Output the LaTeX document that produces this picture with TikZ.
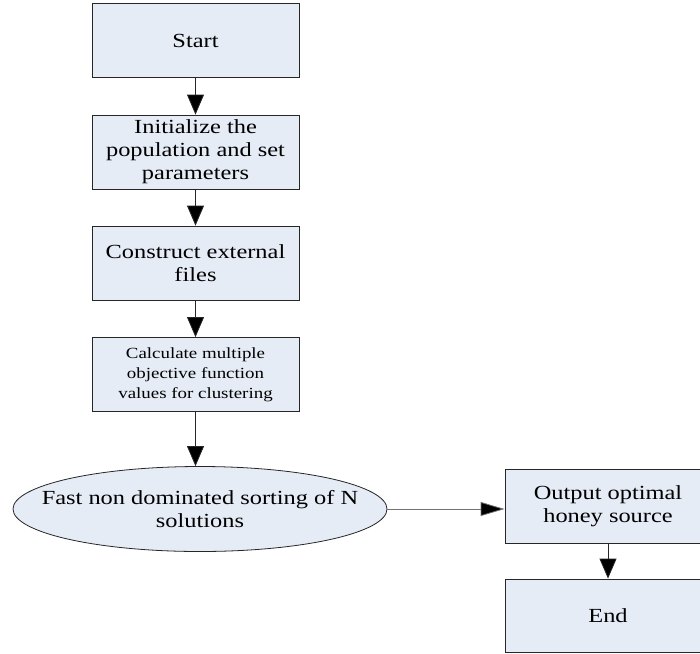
\documentclass[tikz,border=0pt]{standalone}
\usepackage{fontspec}
\setmainfont[FakeStretch=1.22]{Liberation Serif}
\usetikzlibrary{arrows.meta}
\usetikzlibrary{shapes.geometric}

\definecolor{boxfill}{RGB}{230,236,246}

\begin{document}
\begin{tikzpicture}[x=1pt, y=-1pt,
    stepbox/.style={rectangle, draw=black!85, fill=boxfill, line width=0.8pt,
      minimum width=207pt, minimum height=74pt, inner sep=0pt, align=center,
      font=\fontsize{20}{23}\selectfont},
    flow/.style={draw=black!85, line width=0.8pt, -{Triangle[length=20pt, width=17pt, fill=black]}}]
  \useasboundingbox (0,0) rectangle (700,653);

  \node[stepbox] (start) at (195.5,40.5) {Start};
  \node[stepbox] (init) at (195.5,152) {Initialize the\\population and set\\parameters};
  \node[stepbox] (ext) at (195.5,263) {Construct external\\files};
  \node[stepbox, font=\fontsize{15.5}{20}\selectfont] (calc) at (195.5,374.5) {Calculate multiple\\objective function\\values for clustering};
  \node[ellipse, draw=black!85, fill=boxfill, line width=0.8pt, minimum width=374pt,
    minimum height=85pt, inner xsep=-40pt, inner ysep=0pt, align=center,
    font=\fontsize{20}{23}\selectfont] (sort) at (200,509) {Fast non dominated sorting of N\\solutions};
  \node[stepbox, minimum width=206pt] (out) at (608,506) {Output optimal\\honey source};
  \node[stepbox, minimum width=206pt, minimum height=73pt] (end) at (608,615.5) {End};

  \draw[flow] (start) -- (init);
  \draw[flow] (init) -- (ext);
  \draw[flow] (ext) -- (calc);
  \draw[flow] (calc.south) -- (calc.south |- sort.north);
  \draw[flow, draw=black!55, -{Triangle[length=24pt, width=14pt, fill=black]}] (sort.east) -- (out.west |- sort.east);
  \draw[flow] (out) -- (end);
\end{tikzpicture}
\end{document}
